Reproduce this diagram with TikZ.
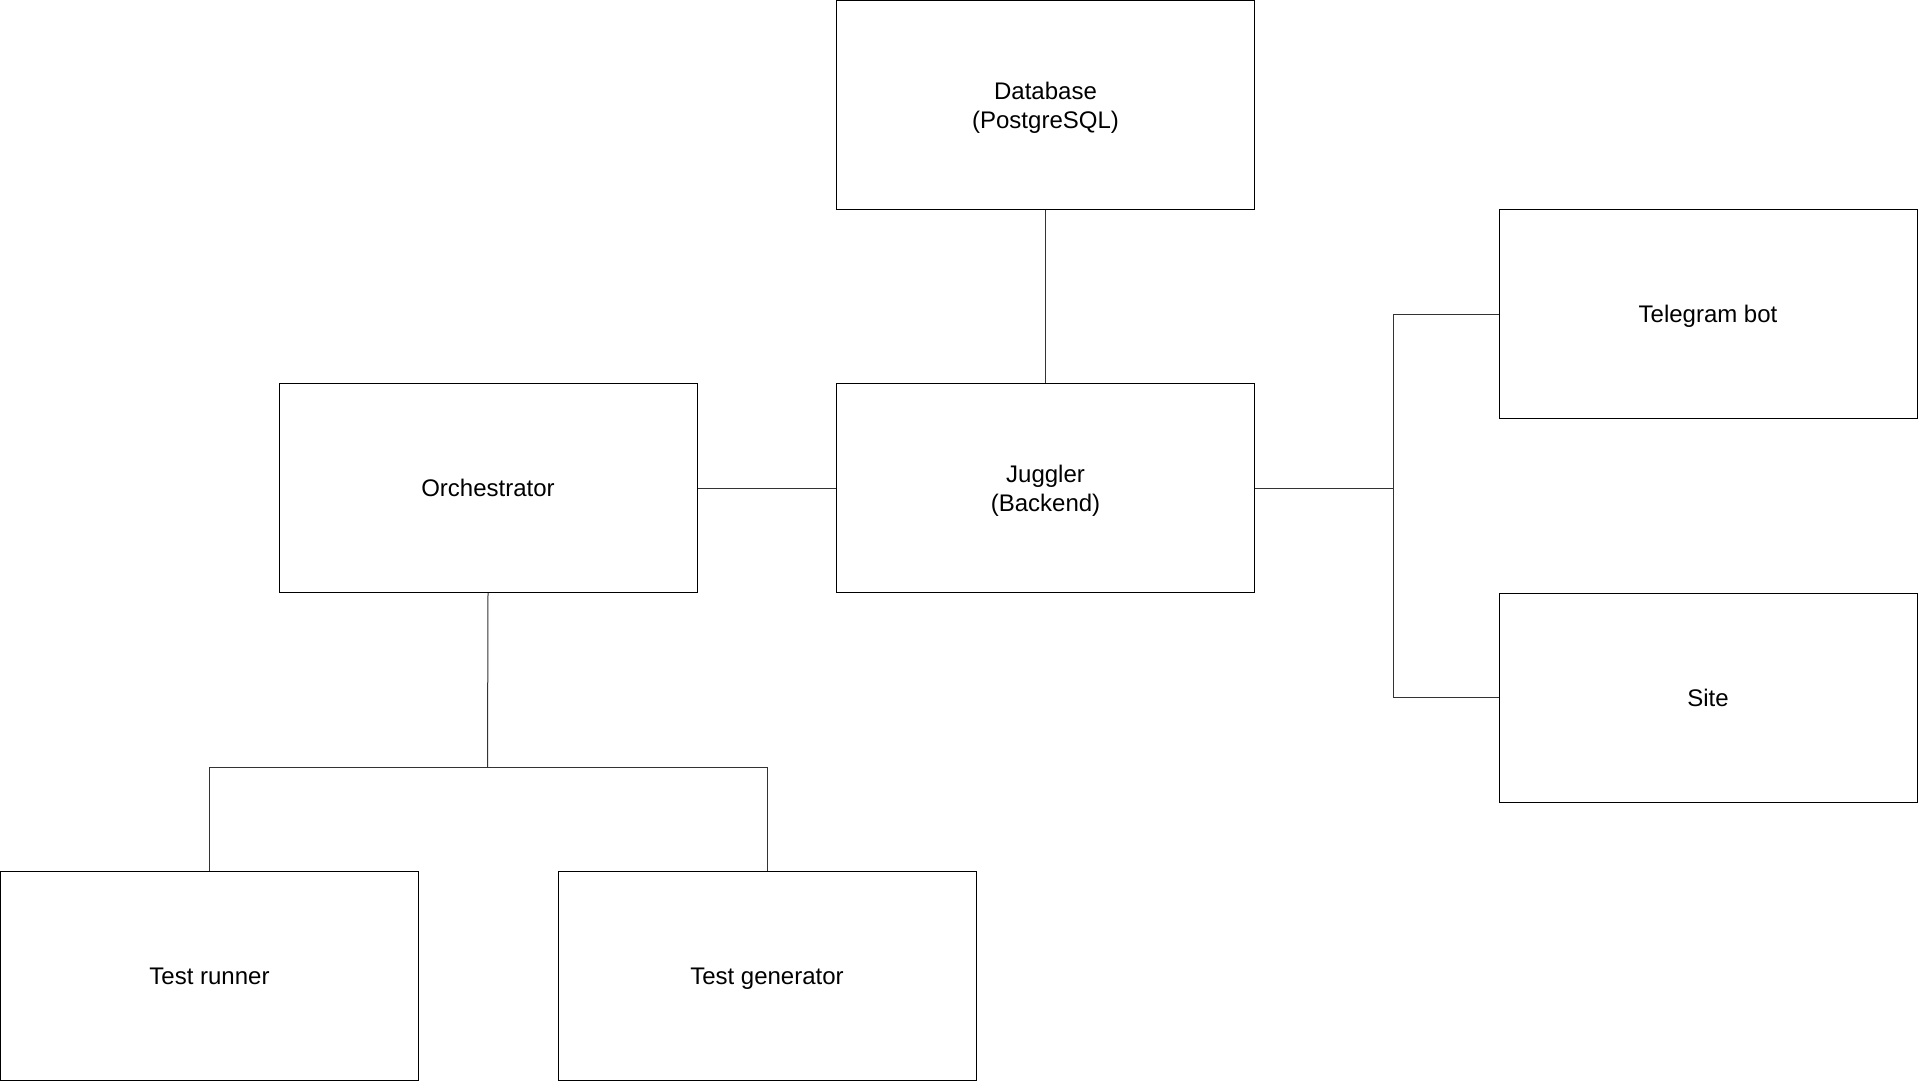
\documentclass[tikz,border=0pt]{standalone}
\usepackage{fontspec}
\setmainfont{Liberation Sans}
\begin{document}
\begin{tikzpicture}[x=1pt,y=-1pt,
  boxnode/.style={draw=black,line width=1pt,minimum width=418pt,minimum height=209pt,
    inner sep=0pt,align=center,font=\fontsize{24}{29.4}\selectfont,
    text height=17.4pt,text depth=0pt},
  twoline/.style={text height=52.8pt,text depth=6pt},
  link/.style={draw=black!80,line width=1pt}]
\useasboundingbox[fill=white] (0,0) rectangle (1918,1082);
\node[boxnode,twoline] (db) at (1045.5,105) {Database\\(PostgreSQL)};
\node[boxnode,twoline] (jug) at (1045.5,488) {Juggler\\(Backend)};
\node[boxnode] (orch) at (488,488) {Orchestrator};
\node[boxnode] (tg) at (1708,314) {Telegram bot};
\node[boxnode] (site) at (1708,697.5) {Site};
\node[boxnode] (runner) at (209.5,975.5) {Test runner};
\node[boxnode] (gen) at (767,975.5) {Test generator};
\coordinate (trunk) at (1393.5,488);
\coordinate (fork) at (487.5,767);
\draw[link] (db.south) -- (jug.north);
\draw[link] (orch.east) -- (jug.west);
\draw[link] (jug.east) -- (trunk);
\draw[link] (tg.west) -| (trunk) |- (site.west);
\draw[link] (orch.south) -- (fork);
\draw[link] (runner.north) |- (fork) -| (gen.north);
\end{tikzpicture}
\end{document}
